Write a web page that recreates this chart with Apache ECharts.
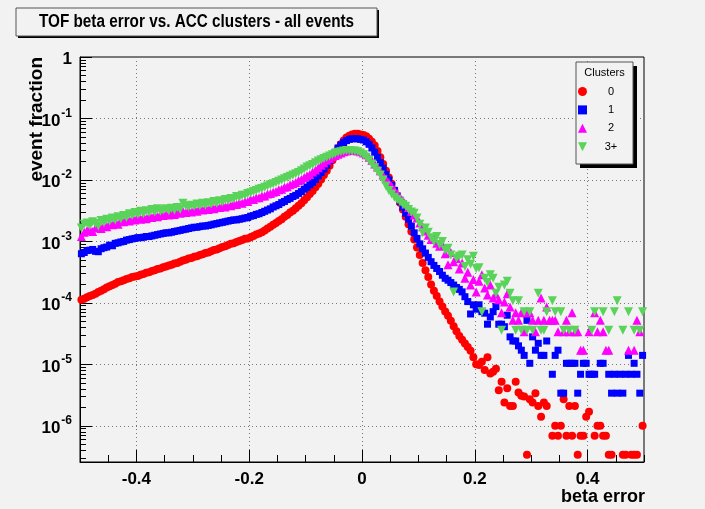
<!DOCTYPE html>
<html><head><meta charset="utf-8">
<script src="https://cdn.jsdelivr.net/npm/echarts@6/dist/echarts.min.js"></script>
<style>html,body{margin:0;padding:0;background:#f2f2f2}#c{width:705px;height:509px}</style>
</head><body><div id="c"></div>
<script>
// Histogram binning (200 bins over [-0.5, 0.5])
const BIN_LOW = -0.5, BIN_WIDTH = 0.005;
const seriesNames = ['0', '1', '2', '3+'];
const xTickLabels = ['-0.4', '-0.2', '0', '0.2', '0.4'];

// event fraction per bin, clusters = 0
const frac0 = [
1.12e-4,1.17e-4,1.23e-4,1.29e-4,1.35e-4,1.41e-4,1.51e-4,1.58e-4,1.66e-4,1.78e-4,
1.86e-4,1.95e-4,2.04e-4,2.19e-4,2.24e-4,2.34e-4,2.45e-4,2.51e-4,2.63e-4,2.69e-4,
2.75e-4,2.88e-4,2.95e-4,3.09e-4,3.16e-4,3.31e-4,3.39e-4,3.55e-4,3.63e-4,3.80e-4,
3.89e-4,4.07e-4,4.17e-4,4.37e-4,4.47e-4,4.68e-4,4.90e-4,5.01e-4,5.25e-4,5.37e-4,
5.62e-4,5.75e-4,6.03e-4,6.17e-4,6.46e-4,6.61e-4,6.92e-4,7.24e-4,7.41e-4,7.76e-4,
8.13e-4,8.32e-4,8.71e-4,9.12e-4,9.33e-4,9.77e-4,1.02e-3,1.05e-3,1.10e-3,1.12e-3,
1.17e-3,1.23e-3,1.29e-3,1.35e-3,1.41e-3,1.51e-3,1.62e-3,1.74e-3,1.86e-3,2.00e-3,
2.14e-3,2.29e-3,2.51e-3,2.69e-3,2.95e-3,3.16e-3,3.47e-3,3.80e-3,4.17e-3,4.68e-3,
5.25e-3,5.89e-3,6.61e-3,7.59e-3,8.71e-3,1.02e-2,1.20e-2,1.41e-2,1.70e-2,2.09e-2,
2.63e-2,3.24e-2,3.80e-2,4.37e-2,4.90e-2,5.25e-2,5.50e-2,5.62e-2,5.62e-2,5.50e-2,
5.37e-2,5.13e-2,4.68e-2,4.17e-2,3.63e-2,2.95e-2,2.34e-2,1.82e-2,1.41e-2,1.10e-2,
8.71e-3,6.76e-3,5.37e-3,4.27e-3,3.31e-3,2.51e-3,1.91e-3,1.45e-3,1.07e-3,7.94e-4,
6.03e-4,4.47e-4,3.39e-4,2.63e-4,2.00e-4,1.58e-4,1.29e-4,1.05e-4,8.71e-5,7.24e-5,
6.17e-5,5.13e-5,4.17e-5,3.47e-5,2.88e-5,2.51e-5,2.19e-5,1.91e-5,1.66e-5,1.30e-5,
1.00e-5,9.8e-6,1.1e-5,8.1e-6,1.3e-5,7.1e-6,7.6e-6,8.5e-6,3.8e-6,5.2e-6,
2.4e-6,4.1e-6,2.1e-6,2.1e-6,5.2e-6,3.5e-6,3.1e-6,3.0e-6,3.4e-7,2.7e-6,
2.4e-6,3.4e-6,2.1e-6,1.4e-6,2.4e-6,2.1e-6,null,6.9e-7,1.0e-6,6.9e-7,
1.0e-6,2.7e-6,6.9e-7,2.1e-6,6.9e-7,2.1e-6,3.4e-7,6.9e-7,6.9e-7,1.4e-6,
1.7e-6,null,6.9e-7,1.0e-6,1.0e-6,6.9e-7,6.9e-7,3.4e-7,3.4e-7,null,
null,null,3.4e-7,3.4e-7,null,3.4e-7,3.4e-7,3.4e-7,null,1.0e-6
];

// clusters = 1
const frac1 = [
6.3e-4,6.6e-4,7.1e-4,7.2e-4,7.4e-4,6.9e-4,6.8e-4,7.6e-4,7.9e-4,8.1e-4,
8.7e-4,8.5e-4,9.3e-4,9.5e-4,9.8e-4,1.0e-3,1.05e-3,1.07e-3,1.10e-3,1.12e-3,
1.15e-3,1.15e-3,1.17e-3,1.20e-3,1.20e-3,1.23e-3,1.26e-3,1.29e-3,1.32e-3,1.35e-3,
1.38e-3,1.38e-3,1.41e-3,1.45e-3,1.48e-3,1.51e-3,1.55e-3,1.58e-3,1.62e-3,1.66e-3,
1.70e-3,1.70e-3,1.74e-3,1.78e-3,1.78e-3,1.82e-3,1.86e-3,1.91e-3,1.95e-3,2.00e-3,
2.04e-3,2.09e-3,2.14e-3,2.19e-3,2.24e-3,2.24e-3,2.29e-3,2.34e-3,2.40e-3,2.45e-3,
2.57e-3,2.63e-3,2.75e-3,2.82e-3,2.95e-3,3.09e-3,3.24e-3,3.39e-3,3.63e-3,3.80e-3,
3.98e-3,4.27e-3,4.47e-3,4.79e-3,5.01e-3,5.37e-3,5.62e-3,6.03e-3,6.46e-3,7.08e-3,
7.59e-3,8.32e-3,9.12e-3,1.02e-2,1.17e-2,1.32e-2,1.51e-2,1.74e-2,2.04e-2,2.40e-2,
2.82e-2,3.31e-2,3.72e-2,4.07e-2,4.37e-2,4.57e-2,4.68e-2,4.68e-2,4.68e-2,4.57e-2,
4.47e-2,4.17e-2,3.80e-2,3.31e-2,2.82e-2,2.34e-2,1.91e-2,1.55e-2,1.23e-2,1.00e-2,
8.13e-3,6.76e-3,5.50e-3,4.47e-3,3.63e-3,2.88e-3,2.29e-3,1.78e-3,1.38e-3,1.12e-3,
9.12e-4,7.59e-4,6.46e-4,5.50e-4,4.68e-4,4.07e-4,3.63e-4,3.24e-4,2.82e-4,2.51e-4,
2.34e-4,2.14e-4,1.95e-4,1.78e-4,1.66e-4,1.51e-4,1.26e-4,1.05e-4,6.6e-5,9.3e-5,
7.9e-5,9.3e-5,7.2e-5,6.8e-5,4.5e-5,5.9e-5,7.2e-5,8.7e-5,4.5e-5,4.5e-5,
4.1e-5,6.3e-5,2.8e-5,2.4e-5,2.4e-5,2.0e-5,1.7e-5,1.4e-5,5.2e-5,1.04e-5,
2.8e-5,1.7e-5,2.2e-5,1.4e-5,1.4e-5,2.4e-5,null,6.9e-6,1.4e-5,1.7e-5,
3.4e-6,3.4e-6,1.04e-5,1.04e-5,1.04e-5,1.04e-5,3.4e-6,6.9e-6,1.04e-5,1.04e-5,
6.9e-6,6.9e-6,6.9e-6,null,1.04e-5,1.04e-5,null,6.9e-6,3.4e-6,6.9e-6,
3.4e-6,6.9e-6,3.4e-6,6.9e-6,1.4e-5,6.9e-6,1.04e-5,6.9e-6,3.4e-6,1.4e-5
];

// clusters = 2
const frac2 = [
1.20e-3,1.41e-3,1.51e-3,1.58e-3,1.45e-3,1.66e-3,1.70e-3,1.62e-3,1.82e-3,1.74e-3,
1.95e-3,1.86e-3,2.04e-3,1.91e-3,2.14e-3,2.09e-3,2.29e-3,2.14e-3,2.34e-3,2.24e-3,
2.45e-3,2.29e-3,2.51e-3,2.34e-3,2.57e-3,2.45e-3,2.69e-3,2.51e-3,2.75e-3,2.63e-3,
2.82e-3,2.69e-3,2.95e-3,2.75e-3,3.02e-3,2.88e-3,3.09e-3,2.95e-3,3.16e-3,3.02e-3,
3.31e-3,3.09e-3,3.39e-3,3.24e-3,3.47e-3,3.31e-3,3.55e-3,3.39e-3,3.63e-3,3.55e-3,
3.80e-3,3.63e-3,3.89e-3,3.80e-3,4.07e-3,3.98e-3,4.27e-3,4.17e-3,4.47e-3,4.47e-3,
4.79e-3,4.79e-3,5.13e-3,5.13e-3,5.50e-3,5.50e-3,5.89e-3,6.03e-3,6.31e-3,6.46e-3,
6.92e-3,7.08e-3,7.59e-3,7.76e-3,8.32e-3,8.71e-3,9.12e-3,9.77e-3,1.02e-2,1.10e-2,
1.17e-2,1.23e-2,1.35e-2,1.45e-2,1.58e-2,1.74e-2,1.91e-2,2.09e-2,2.24e-2,2.40e-2,
2.51e-2,2.63e-2,2.75e-2,2.88e-2,2.95e-2,3.02e-2,3.02e-2,3.02e-2,2.95e-2,2.88e-2,
2.75e-2,2.57e-2,2.34e-2,2.09e-2,1.82e-2,1.62e-2,1.41e-2,1.20e-2,1.05e-2,9.12e-3,
7.94e-3,6.92e-3,6.03e-3,5.25e-3,4.68e-3,4.07e-3,3.55e-3,3.09e-3,2.69e-3,2.40e-3,
2.00e-3,1.74e-3,1.48e-3,1.26e-3,1.07e-3,1.15e-3,9.33e-4,8.32e-4,8.91e-4,6.31e-4,
4.17e-4,6.61e-4,4.68e-4,5.25e-4,3.55e-4,4.47e-4,2.51e-4,3.16e-4,1.95e-4,2.40e-4,
1.51e-4,2.24e-4,2.88e-4,1.74e-4,1.35e-4,1.95e-4,1.20e-4,1.38e-4,1.12e-4,6.9e-5,
1.03e-4,1.41e-4,8.6e-5,5.2e-5,6.9e-5,5.2e-5,6.9e-5,3.4e-5,6.9e-5,6.9e-5,
5.2e-5,3.4e-5,5.2e-5,1.2e-4,5.2e-5,8.6e-5,5.2e-5,5.2e-5,5.2e-5,3.4e-5,
null,3.4e-5,5.2e-5,3.4e-5,6.9e-5,3.4e-5,3.4e-5,1.7e-5,1.7e-5,null,
3.4e-5,null,6.9e-5,3.4e-5,5.2e-5,3.4e-5,1.7e-5,1.7e-5,null,null,
null,null,null,null,1.7e-5,null,1.7e-5,5.2e-5,3.4e-5,null
];

// clusters = 3+
const frac3 = [
1.66e-3,1.91e-3,2.00e-3,1.82e-3,2.09e-3,1.95e-3,1.78e-3,2.19e-3,2.04e-3,2.29e-3,
2.14e-3,2.40e-3,2.24e-3,2.51e-3,2.34e-3,2.63e-3,2.45e-3,2.82e-3,2.63e-3,2.95e-3,
2.75e-3,3.09e-3,2.82e-3,3.16e-3,2.95e-3,3.31e-3,3.02e-3,3.39e-3,3.09e-3,3.24e-3,
3.39e-3,3.16e-3,3.47e-3,3.24e-3,3.55e-3,3.31e-3,4.17e-3,3.80e-3,3.63e-3,3.89e-3,
3.72e-3,4.07e-3,3.80e-3,4.17e-3,3.89e-3,4.27e-3,4.07e-3,4.47e-3,4.17e-3,4.57e-3,
4.37e-3,4.79e-3,4.57e-3,5.01e-3,4.90e-3,5.37e-3,5.25e-3,5.62e-3,5.62e-3,6.03e-3,
6.17e-3,6.46e-3,6.76e-3,7.08e-3,7.24e-3,7.59e-3,7.94e-3,8.32e-3,8.71e-3,9.12e-3,
9.55e-3,1.00e-2,1.05e-2,1.10e-2,1.15e-2,1.20e-2,1.26e-2,1.32e-2,1.41e-2,1.51e-2,
1.62e-2,1.70e-2,1.78e-2,1.91e-2,2.04e-2,2.14e-2,2.24e-2,2.34e-2,2.45e-2,2.57e-2,
2.69e-2,2.82e-2,2.88e-2,2.95e-2,3.02e-2,3.02e-2,2.95e-2,2.95e-2,2.88e-2,2.75e-2,
2.57e-2,2.34e-2,2.09e-2,1.82e-2,1.58e-2,1.38e-2,1.20e-2,1.00e-2,7.94e-3,6.76e-3,
5.89e-3,5.25e-3,4.79e-3,4.37e-3,3.98e-3,3.72e-3,3.31e-3,3.02e-3,2.88e-3,2.40e-3,
1.91e-3,1.38e-3,1.66e-3,1.41e-3,1.15e-3,1.00e-3,1.20e-3,8.91e-4,1.00e-3,7.24e-4,
7.76e-4,6.03e-4,1.51e-4,5.37e-4,5.75e-4,6.03e-4,3.89e-4,5.01e-4,4.27e-4,5.75e-4,
3.63e-4,3.72e-4,7.2e-5,2.51e-4,2.14e-4,2.88e-4,2.51e-4,1.44e-4,1.80e-4,3.6e-5,
1.95e-4,2.24e-4,1.44e-4,1.08e-4,3.6e-5,1.08e-4,3.6e-5,7.2e-5,3.6e-5,7.2e-5,
3.6e-5,null,1.44e-4,3.6e-5,3.6e-5,7.2e-5,null,1.08e-4,7.2e-5,null,
7.2e-5,3.6e-5,null,3.6e-5,null,3.6e-5,null,null,null,null,
null,3.6e-5,7.2e-5,null,null,7.2e-5,null,3.6e-5,null,7.2e-5,
1.08e-4,null,3.6e-5,null,7.2e-5,null,3.6e-5,null,3.6e-5,7.2e-5
];

const FONT = "'Liberation Sans', Arial, Helvetica, sans-serif";

function toPoints(arr) {
  const out = [];
  for (let i = 0; i < arr.length; i++) {
    if (arr[i] != null) out.push([BIN_LOW + BIN_WIDTH * (i + 0.5), arr[i]]);
  }
  return out;
}

const chart = echarts.init(document.getElementById('c'), null, {renderer: 'canvas'});

const option = {
  animation: false,
  backgroundColor: '#f2f2f2',
  grid: {left: 80, right: 61, top: 57, bottom: 47, show: true, borderColor: '#000', borderWidth: 1,
         backgroundColor: 'transparent', outerBoundsMode: 'none', containLabel: false},
  xAxis: [{
    type: 'value', min: -0.5, max: 0.5, splitNumber: 5, position: 'bottom',
    axisLine: {show: true, onZero: false, lineStyle: {color: '#000', width: 1}},
    axisTick: {show: true, inside: true, length: 12, lineStyle: {color: '#000'}},
    splitLine: {show: true, lineStyle: {color: '#777', type: [1, 3], width: 1}},
    axisLabel: {
      margin: 9, color: '#000', fontSize: 17, fontWeight: 'bold', fontFamily: FONT,
      showMinLabel: false, showMaxLabel: false,
      formatter: function (v) {
        const lbl = (Math.abs(v) < 1e-9) ? '0' : v.toFixed(1);
        return xTickLabels.indexOf(lbl) >= 0 ? lbl : '';
      }
    }
  }, {
    type: 'value', min: -0.5, max: 0.5, interval: 0.05, position: 'bottom',
    axisLine: {show: false},
    axisTick: {show: true, inside: true, length: 7, lineStyle: {color: '#000'}},
    splitLine: {show: false},
    axisLabel: {show: false}
  }],
  yAxis: {
    type: 'log', logBase: 10, min: 2.58e-7, max: 1,
    axisLine: {show: true, onZero: false, lineStyle: {color: '#000', width: 1}},
    axisTick: {show: true, inside: true, length: 12, lineStyle: {color: '#000'}},
    minorTick: {show: true, splitNumber: 9, length: 6, lineStyle: {color: '#000'}},
    splitLine: {show: true, lineStyle: {color: '#777', type: [1, 3], width: 1}},
    axisLabel: {
      margin: 8, color: '#000', fontFamily: FONT,
      formatter: function (v) {
        const l = Math.log10(v);
        const e = Math.round(l);
        if (Math.abs(l - e) > 1e-6) return '';
        if (e === 0) return '{b|1}';
        return '{b|10}{s|' + e + '}';
      },
      rich: {
        b: {fontSize: 17, fontWeight: 'bold', fontFamily: FONT, color: '#000', lineHeight: 22, verticalAlign: 'bottom'},
        s: {fontSize: 12, fontWeight: 'bold', fontFamily: FONT, color: '#000', lineHeight: 22, verticalAlign: 'top', padding: [0, 0, 0, 1]}
      }
    }
  },
  legend: {
    orient: 'vertical', left: 578, top: 86, itemWidth: 9, itemHeight: 9, itemGap: 7.4, padding: 0,
    selectedMode: false, z: 6,
    data: [
      {name: seriesNames[0], icon: 'circle'},
      {name: seriesNames[1], icon: 'rect'},
      {name: seriesNames[2], icon: 'triangle'},
      {name: seriesNames[3], icon: 'path://M0,0 L10,0 L5,10 Z'}
    ],
    formatter: function (n) { return '{c|' + n + '}'; },
    textStyle: {rich: {c: {width: 38, align: 'center', fontSize: 11, lineHeight: 13, color: '#000', fontFamily: FONT}}}
  },
  series: [
    {type: 'scatter', name: seriesNames[0], data: toPoints(frac0), symbol: 'circle', symbolSize: 8,
     itemStyle: {color: '#ff0000', opacity: 1}, z: 2},
    {type: 'scatter', name: seriesNames[1], data: toPoints(frac1), symbol: 'rect', symbolSize: 7,
     itemStyle: {color: '#0000ff', opacity: 1}, z: 2},
    {type: 'scatter', name: seriesNames[2], data: toPoints(frac2), symbol: 'triangle', symbolSize: 9,
     itemStyle: {color: '#ff00ff', opacity: 1}, z: 2},
    {type: 'scatter', name: seriesNames[3], data: toPoints(frac3), symbol: 'triangle', symbolSize: 9, symbolRotate: 180,
     itemStyle: {color: '#5ad35a', opacity: 1}, z: 2}
  ],
  graphic: [
    // title box
    {type: 'rect', z: 5, shape: {x: 18, y: 10, width: 361, height: 28}, style: {fill: '#000'}},
    {type: 'rect', z: 5, shape: {x: 16, y: 8, width: 361, height: 28}, style: {fill: '#f2f2f2', stroke: '#555', lineWidth: 1}},
    {type: 'text', z: 6, x: 196.5, y: 22, scaleX: 0.85, style: {text: 'TOF beta error vs. ACC clusters - all events', fill: '#000',
      font: 'bold 18px ' + FONT, textAlign: 'center', textVerticalAlign: 'middle'}},
    // legend box
    {type: 'rect', z: 5, shape: {x: 580, y: 66, width: 57, height: 102}, style: {fill: '#000'}},
    {type: 'rect', z: 5, shape: {x: 576, y: 62, width: 57, height: 102}, style: {fill: '#f2f2f2', stroke: '#555', lineWidth: 1}},
    {type: 'text', z: 6, x: 604.5, y: 72.5, style: {text: 'Clusters', fill: '#000', font: '11px ' + FONT,
      textAlign: 'center', textVerticalAlign: 'middle'}},
    // axis titles
    {type: 'text', z: 6, x: 37, y: 57, rotation: Math.PI / 2, style: {text: 'event fraction', fill: '#000',
      font: 'bold 19px ' + FONT, textAlign: 'right', textVerticalAlign: 'middle'}},
    {type: 'text', z: 6, x: 645, y: 497, style: {text: 'beta error', fill: '#000',
      font: 'bold 18px ' + FONT, textAlign: 'right', textVerticalAlign: 'middle'}}
  ]
};
chart.setOption(option);
</script>
</body></html>
